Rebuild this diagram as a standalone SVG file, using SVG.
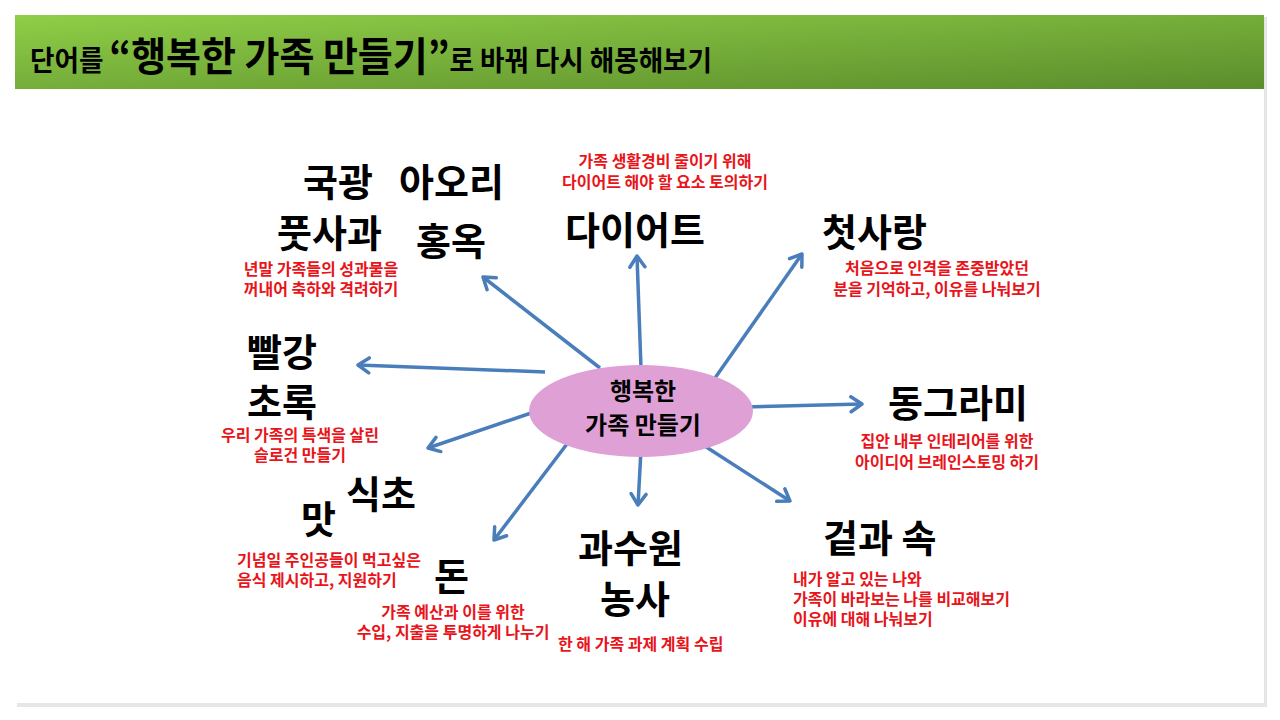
<svg xmlns="http://www.w3.org/2000/svg" width="1280" height="720" viewBox="0 0 1280 720">
<defs>
<linearGradient id="hdr" x1="0" y1="0" x2="1" y2="1">
<stop offset="0" stop-color="#8fce47"/>
<stop offset="1" stop-color="#5b8d2c"/>
</linearGradient>
<marker id="arr" markerUnits="userSpaceOnUse" markerWidth="24" markerHeight="24" refX="13" refY="9" orient="auto" viewBox="0 0 24 18">
<path d="M2,1.5 L13,9 L2,16.5" fill="none" stroke="#4a7ebb" stroke-width="3.5" stroke-linecap="round" stroke-linejoin="round"/>
</marker>
</defs>
<style>
.k{font-family:"Noto Sans CJK KR","Noto Sans",sans-serif;font-weight:bold;fill:#000;font-size:38px}
.m{font-family:"Noto Sans CJK KR","Noto Sans",sans-serif;font-weight:bold;fill:#000;font-size:24px;text-anchor:middle}
.r{font-family:"Noto Sans CJK KR","Noto Sans",sans-serif;font-weight:bold;fill:#e8141a;font-size:16px}
.c{text-anchor:middle}
.ln{stroke:#4a7ebb;stroke-width:3.5;fill:none;marker-end:url(#arr)}
</style>
<rect x="0" y="0" width="1280" height="720" fill="#fff"/>
<rect x="17" y="17" width="1250" height="690" fill="#e6e6e6"/>
<rect x="15" y="15" width="1249" height="688" fill="#fff"/>
<g id="header">
<rect x="15" y="15" width="1249" height="74" fill="url(#hdr)"/>
<text x="30" y="71" font-family="'Noto Sans CJK KR',sans-serif" font-weight="bold" fill="#000" textLength="682" lengthAdjust="spacingAndGlyphs"><tspan font-size="28">단어를 </tspan><tspan font-size="40">“행복한 가족 만들기”</tspan><tspan font-size="28">로 바꿔 다시 해몽해보기</tspan></text>
</g>
<g id="connectors">
<line class="ln" x1="600" y1="368" x2="483" y2="277"/>
<line class="ln" x1="641" y1="368" x2="637" y2="256"/>
<line class="ln" x1="715" y1="378" x2="802" y2="254"/>
<line class="ln" x1="545" y1="372" x2="358" y2="365"/>
<line class="ln" x1="745" y1="407" x2="862" y2="404"/>
<line class="ln" x1="540" y1="410" x2="428" y2="448"/>
<line class="ln" x1="570" y1="440" x2="494" y2="540"/>
<line class="ln" x1="641" y1="450" x2="638" y2="505"/>
<line class="ln" x1="700" y1="443" x2="790" y2="501"/>
</g>
<g id="center">
<ellipse cx="641" cy="411" rx="112" ry="46" fill="#dfa0d6"/>
<text class="m" x="643" y="400">행복한</text>
<text class="m" x="643" y="434">가족 만들기</text>
</g>
<g id="n-apple">
<text class="k" x="303" y="196">국광</text>
<text class="k" x="399" y="196">아오리</text>
<text class="k" x="277" y="247">풋사과</text>
<text class="k" x="416" y="255">홍옥</text>
<text class="r c" x="321" y="275">년말 가족들의 성과물을</text>
<text class="r c" x="321" y="295">꺼내어 축하와 격려하기</text>
</g>
<g id="n-diet">
<text class="r c" x="665" y="167">가족 생활경비 줄이기 위해</text>
<text class="r c" x="665" y="188">다이어트 해야 할 요소 토의하기</text>
<text class="k" x="565" y="244">다이어트</text>
</g>
<g id="n-love">
<text class="k" x="822" y="246">첫사랑</text>
<text class="r c" x="937" y="274">처음으로 인격을 존중받았던</text>
<text class="r c" x="937" y="295">분을 기억하고, 이유를 나눠보기</text>
</g>
<g id="n-color">
<text class="k" x="247" y="366">빨강</text>
<text class="k" x="247" y="416">초록</text>
<text class="r c" x="300" y="441">우리 가족의 특색을 살린</text>
<text class="r c" x="300" y="461">슬로건 만들기</text>
</g>
<g id="n-circle">
<text class="k" x="888" y="417">동그라미</text>
<text class="r c" x="947" y="447">집안 내부 인테리어를 위한</text>
<text class="r c" x="947" y="468">아이디어 브레인스토밍 하기</text>
</g>
<g id="n-taste">
<text class="k" x="346" y="508">식초</text>
<text class="k" x="301" y="533">맛</text>
<text class="r" x="237" y="566">기념일 주인공들이 먹고싶은</text>
<text class="r" x="237" y="586">음식 제시하고, 지원하기</text>
</g>
<g id="n-money">
<text class="k" x="434" y="590">돈</text>
<text class="r c" x="453" y="618">가족 예산과 이를 위한</text>
<text class="r c" x="453" y="638">수입, 지출을 투명하게 나누기</text>
</g>
<g id="n-farm">
<text class="k" x="578" y="562">과수원</text>
<text class="k" x="600" y="613">농사</text>
<text class="r" x="558" y="650">한 해 가족 과제 계획 수립</text>
</g>
<g id="n-inout">
<text class="k" x="823" y="552">겉과 속</text>
<text class="r" x="793" y="585">내가 알고 있는 나와</text>
<text class="r" x="793" y="605">가족이 바라보는 나를 비교해보기</text>
<text class="r" x="793" y="625">이유에 대해 나눠보기</text>
</g>
</svg>
